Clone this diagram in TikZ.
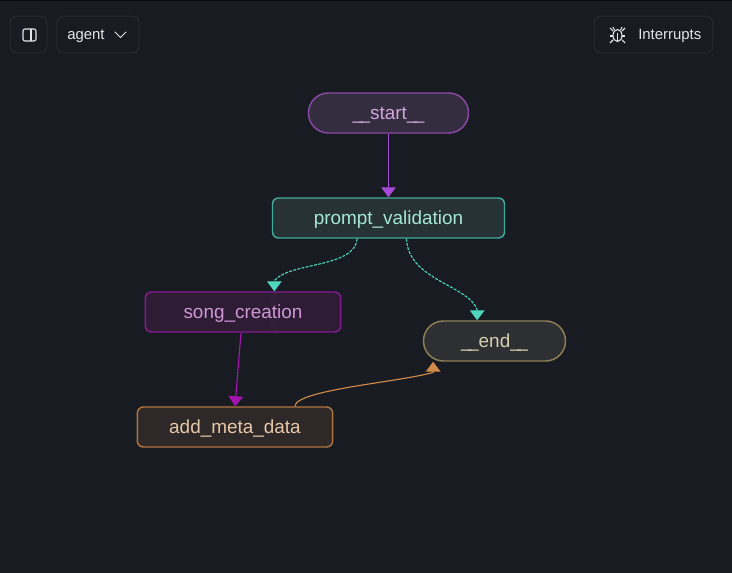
\documentclass[tikz,border=0pt]{standalone}
\usepackage{fontspec}
\setmainfont{Liberation Sans}
\usetikzlibrary{arrows.meta}
\definecolor{pagebg}{HTML}{181B22}
\definecolor{btnline}{HTML}{262A31}
\definecolor{btntext}{HTML}{E4E4E6}
\definecolor{startfill}{HTML}{332D3F}
\definecolor{startline}{HTML}{8A48A6}
\definecolor{starttext}{HTML}{D3A5DE}
\definecolor{promptfill}{HTML}{263236}
\definecolor{promptline}{HTML}{41AB9B}
\definecolor{prompttext}{HTML}{A8E6D8}
\definecolor{songfill}{HTML}{2D1C33}
\definecolor{songline}{HTML}{851A92}
\definecolor{songtext}{HTML}{CF96D8}
\definecolor{metafill}{HTML}{2E2928}
\definecolor{metaline}{HTML}{B0743F}
\definecolor{metatext}{HTML}{E6C8A8}
\definecolor{endfill}{HTML}{2E2F33}
\definecolor{endline}{HTML}{8E7F54}
\definecolor{endtext}{HTML}{D6CFB0}
\definecolor{startarrow}{HTML}{A64AD8}
\definecolor{promptarrow}{HTML}{4FD6BC}
\definecolor{songarrow}{HTML}{A514B0}
\definecolor{metaarrow}{HTML}{D08A4A}
\newcommand{\dunder}{\_\kern-2.6pt\_}
\begin{document}
\begin{tikzpicture}[x=0.75pt, y=-0.75pt,
    box/.style={draw, line width=1.1pt, minimum height=30pt, rounded corners=4.5pt, font=\fontsize{14.2}{16}\selectfont, inner sep=0pt, text height=13.3pt, text depth=3pt},
    pill/.style={box, rounded corners=14.9pt},
    btn/.style={draw=btnline, line width=0.75pt, rounded corners=5pt, minimum height=27.5pt, inner sep=0pt},
    btnlabel/.style={text=btntext, font=\fontsize{11.2}{13}\selectfont, inner sep=0pt},
    icon/.style={draw=btntext, line width=0.8pt},
    edge/.style={line width=0.85pt, -{Triangle[length=7.5pt, width=11pt]}},
    dashedge/.style={edge, dash pattern=on 2.2pt off 1pt}]
    % Page
    \useasboundingbox (0,0) rectangle (732,573);
    \fill[pagebg] (0,0) rectangle (732,573);
    \fill[black!60!pagebg] (0,0) rectangle (732,1);

    % Buttons
    \node[btn, minimum width=27.5pt] (panelbtn) at (28.5,34.5) {};
    \node[btn, minimum width=61.5pt] (agentbtn) at (98,34.5) {};
    \node[btn, minimum width=89pt] (interruptbtn) at (653.5,34.5) {};
    \node[btnlabel, anchor=west] (agentlabel) at (67,36) {agent};
    \node[btnlabel, anchor=west] (interruptlabel) at (638,35.5) {Interrupts};

    % Panel icon
    \draw[icon, rounded corners=1.5pt] (23,29) rectangle (36,41);
    \draw[icon] (31,29) -- (31,41);
    % Chevron
    \draw[icon, line width=0.65pt, line cap=round, line join=round] (115,32) -- (120.5,37.5) -- (126,32);
    % Bug icon
    \draw[icon] (617.5,35.5) ellipse (4.5 and 6);
    \draw[icon] (617.5,33) -- (617.5,41);
    \foreach \dy/\ey in {31/28, 36/36, 40/43} {
        \draw[icon] (613,\dy) -- (610,\ey);
        \draw[icon] (622,\dy) -- (625,\ey);
    }
    \draw[icon] (614.5,30) -- (613,27);
    \draw[icon] (620.5,30) -- (622,27);

    % Graph nodes
    \node[pill, fill=startfill, draw=startline, text=starttext, minimum width=120pt] (start) at (388.5,113) {\dunder start\dunder};
    \node[box, fill=promptfill, draw=promptline, text=prompttext, minimum width=174pt] (prompt) at (388.5,218) {prompt\_validation};
    \node[box, fill=songfill, draw=songline, text=songtext, minimum width=146.5pt] (song) at (243,312) {song\_creation};
    \node[box, fill=metafill, draw=metaline, text=metatext, minimum width=146.5pt] (meta) at (235,427) {add\_meta\_data};
    \node[pill, fill=endfill, draw=endline, text=endtext, minimum width=106.5pt] (end) at (494.5,341) {\dunder end\dunder};

    % Lighter band in song_creation
    \fill[white, opacity=0.015] (271,293) rectangle (278,331);

    % Edges
    \draw[edge, startarrow] (start.south) -- (prompt.north);
    \draw[edge, songarrow] ([xshift=-1.5pt]song.south) -- (meta.north);
    \draw[dashedge, promptarrow] ([xshift=-23.5pt]prompt.south) .. controls (355,268) and (290,262) .. ([xshift=23.5pt, yshift=8pt]song.north) -- ([xshift=23.5pt]song.north);
    \draw[dashedge, promptarrow] ([xshift=13.5pt]prompt.south) .. controls (408,280) and (468,285) .. ([xshift=-13pt, yshift=8pt]end.north) -- ([xshift=-13pt]end.north);
    \draw[edge, metaarrow] ([xshift=45pt]meta.north) .. controls (295,390) and (400,382) .. ([xshift=-46pt, yshift=-8pt]end.south) -- ([xshift=-46pt]end.south);
\end{tikzpicture}
\end{document}
